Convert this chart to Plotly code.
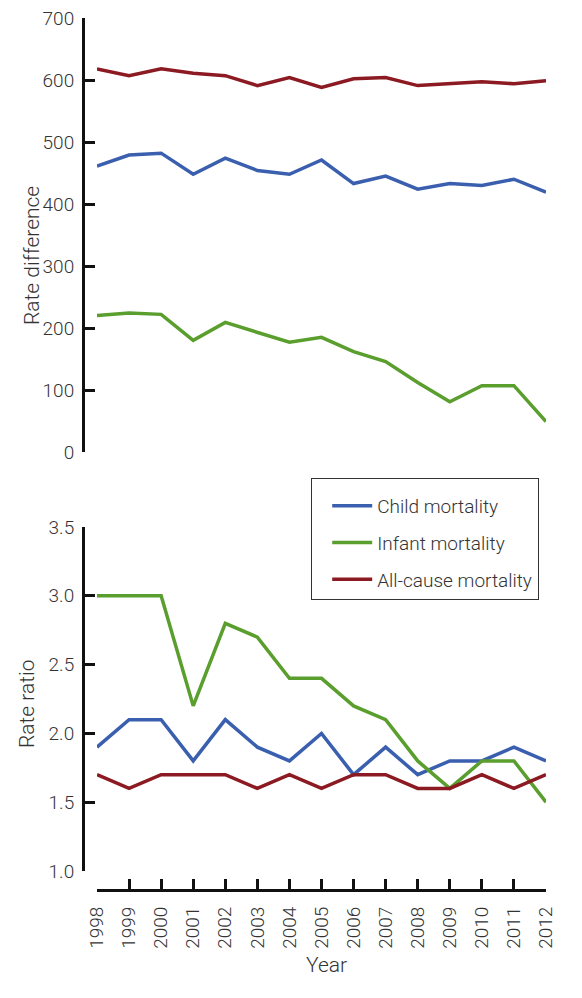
import plotly.graph_objects as go

years = list(range(1998, 2013))

# Rate difference (top panel)
diff_child = [461, 479, 482, 448, 474, 454, 448, 471, 433, 445, 424, 433, 430, 440, 419]
diff_infant = [220, 224, 222, 180, 209, 193, 177, 185, 162, 146, 112, 81, 107, 107, 49]
diff_all = [618, 607, 618, 611, 607, 591, 604, 588, 602, 604, 591, 594, 597, 594, 599]

# Rate ratio (bottom panel)
ratio_child = [1.9, 2.1, 2.1, 1.8, 2.1, 1.9, 1.8, 2.0, 1.7, 1.9, 1.7, 1.8, 1.8, 1.9, 1.8]
ratio_infant = [3.0, 3.0, 3.0, 2.2, 2.8, 2.7, 2.4, 2.4, 2.2, 2.1, 1.8, 1.6, 1.8, 1.8, 1.5]
ratio_all = [1.7, 1.6, 1.7, 1.7, 1.7, 1.6, 1.7, 1.6, 1.7, 1.7, 1.6, 1.6, 1.7, 1.6, 1.7]

series_names = ["Child mortality", "Infant mortality", "All-cause mortality"]
colors = ["#3a5fae", "#5a9e2e", "#8c1a22"]

# page body has an 8px margin; figure fills the rest of the window
OFF = 8
W, H = 582 - 2 * OFF, 998 - 2 * OFF
def px(x):
    return (x - OFF) / W
def py(y):
    return 1 - (y - OFF) / H

FONT = "Roboto"
TXT = "#333333"
LW = 3.5

fig = go.Figure()

for name, col, vals in zip(series_names, colors, [diff_child, diff_infant, diff_all]):
    fig.add_trace(go.Scatter(x=years, y=vals, mode="lines", name=name,
                             line=dict(color=col, width=LW),
                             xaxis="x2", yaxis="y2", showlegend=False))

for name, col, vals in zip(series_names, colors, [ratio_child, ratio_infant, ratio_all]):
    fig.add_trace(go.Scatter(x=years, y=vals, mode="lines", name=name,
                             line=dict(color=col, width=LW),
                             xaxis="x", yaxis="y", legendgroup=name, showlegend=True))

xdom = [px(97), px(546)]
tickfont = dict(family=FONT, size=19, color=TXT, weight=300)
titlefont = dict(family=FONT, size=21, color=TXT, weight=300)

fig.update_layout(
    width=W, height=H,
    margin=dict(l=0, r=0, t=0, b=0),
    paper_bgcolor="white", plot_bgcolor="white",
    font=dict(family=FONT, color=TXT, weight=300),
    xaxis=dict(domain=xdom, range=[1998, 2012], anchor="free", position=py(890),
               showgrid=False, zeroline=False, showline=True, linecolor="#111111", linewidth=3,
               ticks="inside", ticklen=10, tickwidth=2.5, tickcolor="#111111",
               tickmode="array", tickvals=years, ticktext=[str(y) for y in years],
               tickangle=-90, tickfont=tickfont, ticklabelstandoff=7, automargin=False,
               ticklabeloverflow="allow"),
    yaxis=dict(domain=[py(871), py(527)], range=[1.0, 3.5], anchor="free", position=px(83),
               showgrid=False, zeroline=False, showline=True, linecolor="#111111", linewidth=3,
               ticks="inside", ticklen=10, tickwidth=2.5, tickcolor="#111111",
               tickvals=[1.0, 1.5, 2.0, 2.5, 3.0, 3.5], ticktext=["1.0", "1.5", "2.0", "2.5", "3.0", "3.5"],
               tickfont=tickfont, ticklabelstandoff=4, automargin=False, ticklabeloverflow="allow"),
    xaxis2=dict(domain=xdom, range=[1998, 2012], anchor="y2", visible=False),
    yaxis2=dict(domain=[py(452), py(18)], range=[0, 700], anchor="free", position=px(83),
                showgrid=False, zeroline=False, showline=True, linecolor="#111111", linewidth=3,
                ticks="inside", ticklen=10, tickwidth=2.5, tickcolor="#111111",
                tickvals=[0, 100, 200, 300, 400, 500, 600, 700],
                tickfont=tickfont, ticklabelstandoff=4, automargin=False, ticklabeloverflow="allow"),
    legend=dict(x=px(311), y=py(478), xanchor="left", yanchor="top",
                bordercolor="#333333", borderwidth=1.2, bgcolor="white",
                font=dict(family=FONT, size=19, color=TXT, weight=300),
                title=dict(text="&nbsp;", font=dict(size=6)),
                tracegroupgap=9, traceorder="grouped", itemwidth=40, indentation=15),
    annotations=[
        dict(text="Rate difference", x=px(32), y=py(256), xref="paper", yref="paper",
             xanchor="center", yanchor="middle",
             showarrow=False, textangle=-90, font=titlefont),
        dict(text="Rate ratio", x=px(27), y=py(704), xref="paper", yref="paper",
             xanchor="center", yanchor="middle",
             showarrow=False, textangle=-90, font=titlefont),
        dict(text="Year", x=px(326), y=py(965), xref="paper", yref="paper",
             xanchor="center", yanchor="middle",
             showarrow=False, font=titlefont),
    ],
)

fig.write_html("out.html")
